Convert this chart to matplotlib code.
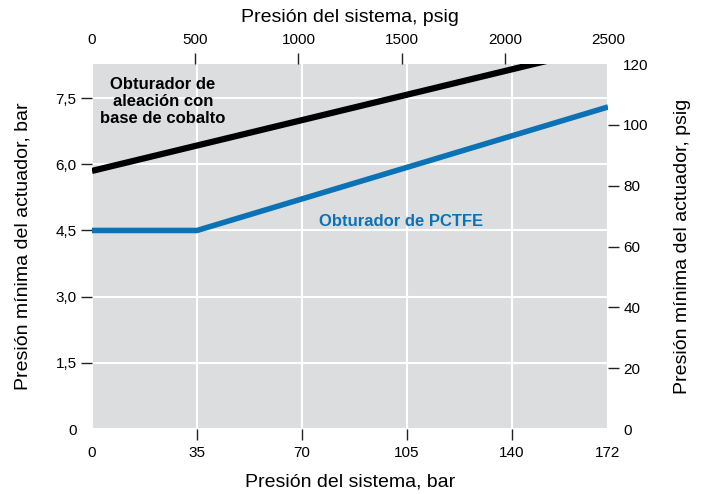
import matplotlib
matplotlib.use("Agg")
import matplotlib.pyplot as plt

plt.rcParams['font.family'] = ['Liberation Sans', 'DejaVu Sans']

# datos (bar)
bar_ticks = [0, 35, 70, 105, 140, 172]
psig_ticks = [0, 500, 1000, 1500, 2000, 2500]
act_bar_ticks = [0, 1.5, 3.0, 4.5, 6.0, 7.5]
act_bar_labels = ['0', '1,5', '3,0', '4,5', '6,0', '7,5']
act_psig_ticks = [0, 20, 40, 60, 80, 100, 120]

cobalto_x = [0, 172]
cobalto_y = [5.85, 8.68]
pctfe_x = [0, 35, 172]
pctfe_y = [4.5, 4.5, 7.3]

gris = '#DCDDDF'
azul = '#0A72B5'

fig = plt.figure(figsize=(7.01, 4.94), dpi=100)
ax = fig.add_axes([92/701, 65/494, 516/701, 365/494])
ax.set_facecolor(gris)
ax.set_xlim(0, 172)
ax.set_ylim(0, 120 / 14.5038)

ax.set_xticks(bar_ticks)
ax.set_yticks(act_bar_ticks)
ax.set_yticklabels(act_bar_labels)
ax.grid(True, color='white', linewidth=1.5)
ax.set_axisbelow(True)

ax.plot(cobalto_x, cobalto_y, color='black', linewidth=4.5, solid_capstyle='butt')
ax.plot(pctfe_x, pctfe_y, color=azul, linewidth=4.0, solid_capstyle='butt')

ax.text(23.7, 7.42, 'Obturador de\naleación con\nbase de cobalto', ha='center', va='center',
        fontsize=12, fontweight='bold', color='black', linespacing=1.15)
ax.text(103, 4.71, 'Obturador de PCTFE', ha='center', va='center',
        fontsize=12, fontweight='bold', color=azul)

ax.set_xlabel('Presión del sistema, bar', fontsize=14, labelpad=10)
ax.set_ylabel('Presión mínima del actuador, bar', fontsize=14, labelpad=17)

ax_r = ax.twinx()
ax_r.set_ylim(0, 120)
ax_r.set_yticks(act_psig_ticks)
ax_r.set_ylabel('Presión mínima del actuador, psig', fontsize=14, labelpad=18)

ax_t = ax.twiny()
ax_t.set_xlim(0, 2500)
ax_t.set_xticks(psig_ticks)
ax_t.set_xlabel('Presión del sistema, psig', fontsize=14, labelpad=8)

for a in (ax, ax_r, ax_t):
    for s in a.spines.values():
        s.set_visible(False)
    a.tick_params(length=8, width=1, labelsize=11, pad=3, color='#222222')

ax.tick_params(axis='x', pad=4)
ax_t.tick_params(axis='x', pad=4.5)

# sin marca de graduacion en los extremos
ax.get_xticklines()[0].set_visible(False)
ax.get_xticklines()[-2].set_visible(False)
ax.get_yticklines()[0].set_visible(False)
ax_r.get_yticklines()[1].set_visible(False)
ax_r.get_yticklines()[-1].set_visible(False)
ax_t.get_xticklines()[1].set_visible(False)
ax_t.get_xticklines()[-1].set_visible(False)

fig.savefig('out.png', dpi=100)
